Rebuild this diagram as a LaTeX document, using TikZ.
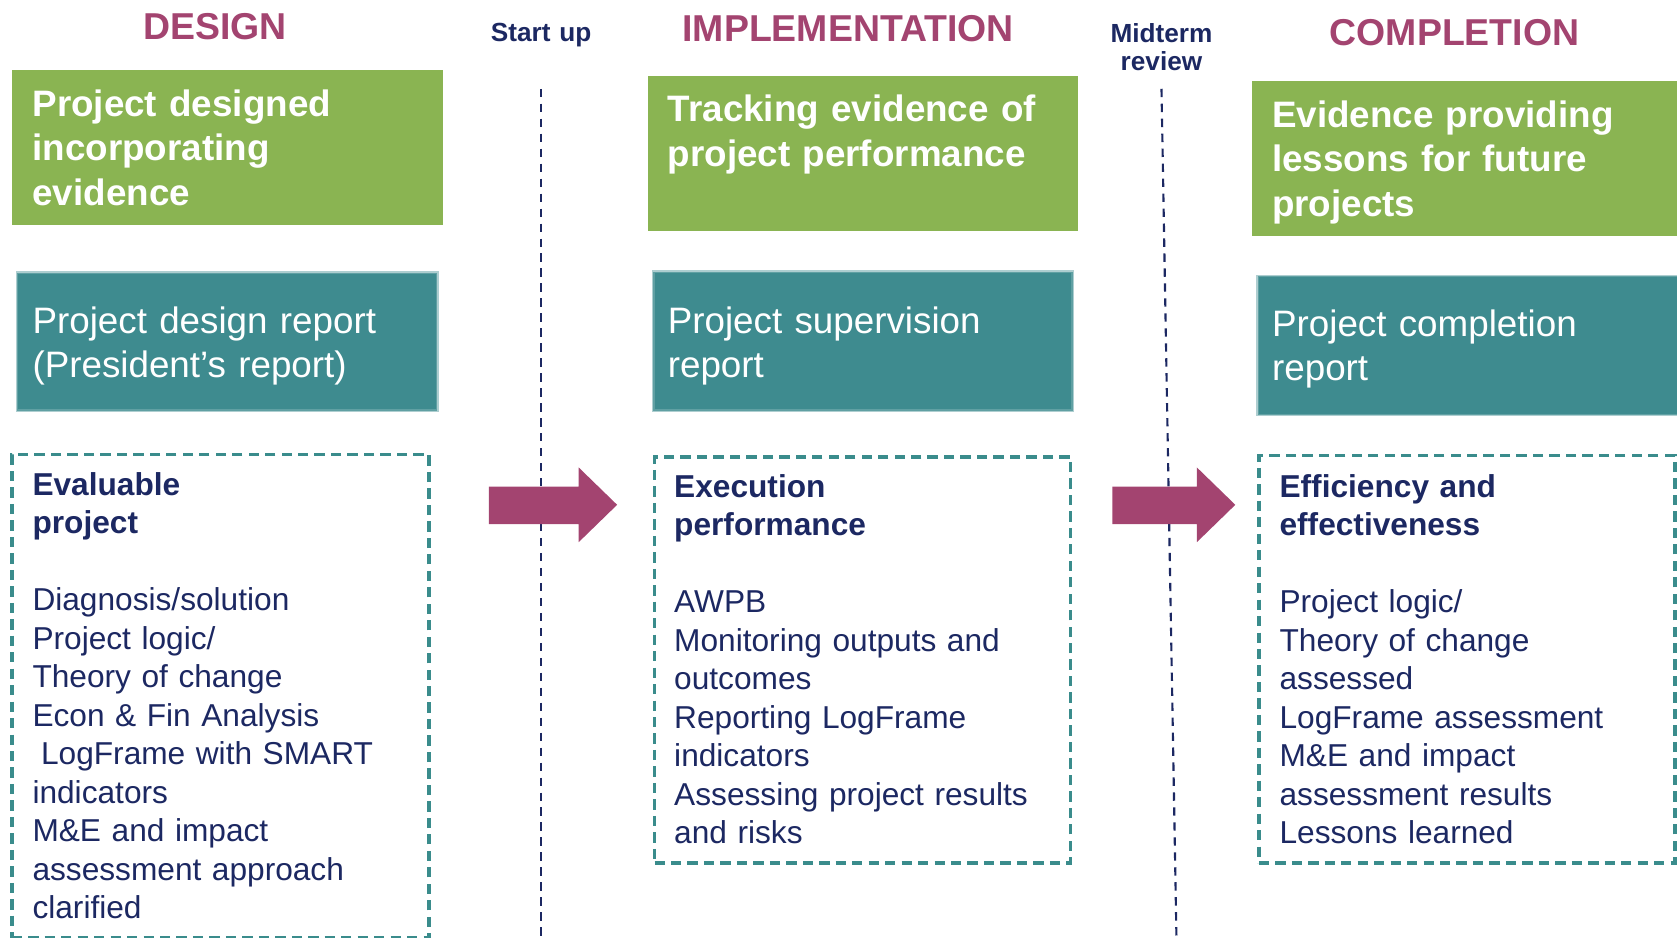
\documentclass[tikz,border=0pt]{standalone}
\usepackage{fontspec}
\setmainfont{Liberation Sans}
\usetikzlibrary{fit}
\definecolor{mygreen}{RGB}{138,180,82}
\definecolor{myteal}{RGB}{62,139,143}
\definecolor{mymag}{RGB}{163,68,112}
\definecolor{mynavy}{RGB}{28,40,98}
\definecolor{dashteal}{RGB}{58,140,140}
\begin{document}
\begin{tikzpicture}[x=0.5pt,y=-0.5pt,
  heading/.style={font=\fontsize{17.5pt}{21pt}\selectfont\bfseries, text=mymag, anchor=base, inner sep=0pt},
  milestone/.style={font=\fontsize{12.25pt}{13.25pt}\selectfont\bfseries, text=mynavy, align=center, anchor=base, inner sep=0pt, text width=60pt},
  greenbox/.style={fill=mygreen, draw=none, inner sep=0pt},
  tealbox/.style={fill=myteal, draw=myteal!70, line width=1.2pt, draw opacity=0.6, inner sep=0pt},
  dashbox/.style={draw=dashteal, line width=1.7pt, dash pattern=on 4.8pt off 2.9pt, inner sep=0pt},
  gtext/.style={font=\fontsize{17.2pt}{20.75pt}\selectfont\bfseries, text=white, align=left, text width=195pt, anchor=base west, inner sep=0pt},
  ttext/.style={font=\fontsize{17.2pt}{20.5pt}\selectfont, text=white, align=left, text width=195pt, anchor=base west, inner sep=0pt},
  btext/.style={font=\fontsize{14.8pt}{18pt}\selectfont, text=mynavy, align=left, text width=188pt, anchor=base west, inner sep=0pt},
  timeline/.style={draw=mynavy, line width=1pt, dash pattern=on 3.9pt off 3.1pt},
  blockarrow/.style={fill=mymag, draw=none}
]
\useasboundingbox (0,0) rectangle (1568,877);

% headings
\node[heading] (hdes) at (201,37) {DESIGN};
\node[heading] (himp) at (793,39) {IMPLEMENTATION};
\node[heading] (hcom) at (1360,43) {COMPLETION};
\node[milestone] (mstart) at (506,39) {Start up};
\node[milestone] (mmid) at (1086,39.5) {Midterm\\review};

% timelines
\coordinate (st1) at (506,83);
\coordinate (sb1) at (506,877);
\coordinate (st2) at (1086,83);
\coordinate (sb2) at (1100,877);
\draw[timeline] (st1) -- (sb1);
\draw[timeline] (st2) -- (sb2);

% green boxes
\node[greenbox, fit={(11,65) (414,210)}] (g1) {};
\node[greenbox, fit={(606,71) (1008,216)}] (g2) {};
\node[greenbox, fit={(1171,76) (1568,221)}] (g3) {};
\node[gtext] (g1t) at (30,109) {Project designed\\incorporating\\evidence};
\node[gtext] (g2t) at (624,114) {Tracking evidence of\\project performance};
\node[gtext] (g3t) at (1189,119) {Evidence providing\\lessons for future\\projects};

% teal boxes
\node[tealbox, fit={(16,255) (409,384)}] (t1) {};
\node[tealbox, fit={(611,254) (1003,384)}] (t2) {};
\node[tealbox, fit={(1176,258) (1570,388)}] (t3) {};
\node[ttext] (t1t) at (30,312) {Project design report\\(President’s report)};
\node[ttext] (t2t) at (624,312) {Project supervision\\report};
\node[ttext] (t3t) at (1189,315) {Project completion\\report};

% dashed boxes
\node[dashbox, fit={(11,425) (401,877)}] (d1) {};
\node[dashbox, fit={(612,427) (1001,807)}] (d2) {};
\node[dashbox, fit={(1177,426) (1566,807)}] (d3) {};
\node[btext] (d1t) at (30,463) {\textbf{Evaluable}\\\textbf{project}\\[18pt]Diagnosis/solution\\Project logic/\\Theory of change\\Econ \& Fin Analysis\\\hspace*{4pt}LogFrame with SMART\\indicators\\M\&E and impact\\assessment approach\\clarified};
\node[btext] (d2t) at (630,465) {\textbf{Execution}\\\textbf{performance}\\[18pt]AWPB\\Monitoring outputs and\\outcomes\\Reporting LogFrame\\indicators\\Assessing project results\\and risks};
\node[btext] (d3t) at (1196,465) {\textbf{Efficiency and}\\\textbf{effectiveness}\\[18pt]Project logic/\\Theory of change\\assessed\\LogFrame assessment\\M\&E and impact\\assessment results\\Lessons learned};

% block arrows
\fill[blockarrow] (457,455) -- (541,455) -- (541,437) -- (577,472) -- (541,507) -- (541,490) -- (457,490) -- cycle;
\fill[blockarrow] (1040,455) -- (1119,455) -- (1119,437) -- (1155,472) -- (1119,507) -- (1119,490) -- (1040,490) -- cycle;
\end{tikzpicture}
\end{document}
